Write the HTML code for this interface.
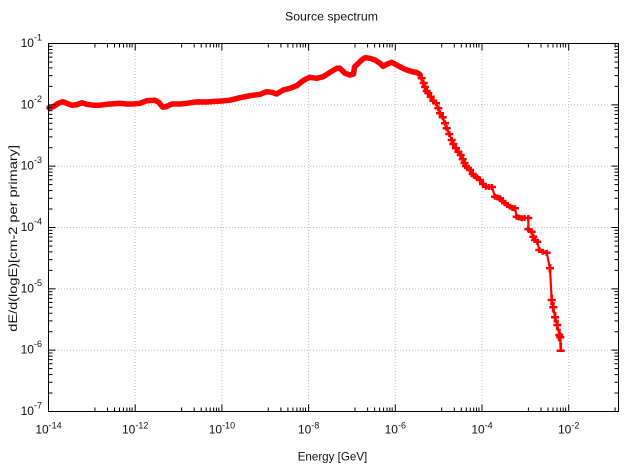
<!DOCTYPE html>
<html><head><meta charset="utf-8"><style>
html,body{margin:0;padding:0;background:#fff;}
svg{display:block;font-family:"Liberation Sans",sans-serif;}
</style></head><body>
<svg width="628" height="469" viewBox="0 0 628 469" xmlns="http://www.w3.org/2000/svg">
<rect width="628" height="469" fill="#fff"/>
<!-- grid -->
<g stroke="#bdbdbd" stroke-width="1" stroke-dasharray="1 2" fill="none">
<path d="M135.2 44V411M221.9 44V411M308.6 44V411M395.3 44V411M482 44V411M568.7 44V411"/>
<path d="M49 104.83H618M49 166.17H618M49 227.5H618M49 288.83H618M49 350.17H618"/>
</g>
<!-- data band -->
<polyline fill="none" stroke="#ff0000" stroke-width="5.5" stroke-linejoin="round" stroke-linecap="round" points="49,107.7 53.3,106.7 58.3,103.3 62.7,101.7 66.7,103.3 71.7,105.2 76.7,104.8 81.7,102.8 86.7,104.3 93.3,105.2 100,105.2 106.7,104.3 113.3,103.7 120,103.3 126.7,104 133.3,104 140,103.3 146.7,100.7 155,100.3 159,102.5 162.7,107.2 166.7,106.5 171.7,104 180,104 186.7,103.3 196.7,101.9 206.7,102 213.3,101.5 221.7,101 230,100.2 240,97.7 250,95.7 260,94.3 266.7,91.7 271.7,92.3 276.7,94 283.3,90 290,88.3 296.7,85.7 301.7,81.7 306,79 310,77.3 316.7,78.3 323.3,76.7 330,72.3 336.7,68.3 340,68.3 345,73.3 350,75 353.5,74 354.5,67 358.3,63.3 361.7,60 365,57.7 370,58.3 375,60 380,63.3 383.3,66.3 386.7,64.3 391.7,62.3 396.7,65 401.7,67.7 406.7,70 411.7,71.5 416.7,72.5 420,74.5"/>
<!-- descending line -->
<polyline fill="none" stroke="#ff0000" stroke-width="2.2" stroke-linejoin="round" points="420,74.5 421.7,78.3 423.3,83 425,87 426.7,91 428.3,93.3 430.7,96.7 433.3,100.7 436,103.3 438.3,108.3 440,113.3 442.7,117.3 445,123.3 446.7,128.3 449.3,134 451.7,140 453.3,144 456,148.3 458.3,151.7 460.7,155 462.7,159.3 464.5,163 466,166 468,168 470,170 472.7,174 474.5,176 476.7,177.3 480,180 483,184 486,186.7 489,187 492,187 495,196.7 497.5,197.5 500,198.3 502.5,201 505,203.3 507.5,205 510,206.7 512.5,208 515,208.3 516.7,216.7 519,217.5 521.7,218.3 524.5,218 528.3,218 528.3,229.3 531.7,231.7 533.3,236.7 535,240 537.3,241.7 539.3,250 542.7,251.7 546.7,252.7 550,268.3 551.7,300 553.3,307.3 555,317.3 557.3,325 559.3,335 560.3,337.3 560.7,350.7"/>
<!-- markers -->
<g fill="none" stroke="#ff0000" stroke-width="2.5">
<path d="M417.7 78.3h8M421.7 75.3v6M419.7 83h8M423.3 80v6M421 87h8M425 84v6M422.7 91h8M426.7 88v6M424.3 93.3h8M428.3 90.3v6M426.7 96.7h8M430.7 93.7v6M429.3 100.7h8M433.3 97.7v6M432 103.3h8M436 100.3v6M434.3 108.3h8M438.3 105.3v6M436 113.3h8M440 110.3v6M438.7 117.3h8M442.7 114.3v6M441 123.3h8M445 120.3v6M442.7 128.3h8M446.7 125.3v6M445.3 134h8M449.3 131v6M447.7 140h8M451.7 137v6M449.3 144h8M453.3 141v6M452 148.3h8M456 145.3v6M454.3 151.7h8M458.3 148.7v6M456.7 155h8M460.7 152v6M458.7 159.3h8M462.7 156.3v6M460.5 163h8M464.5 160v6M462 166h8M466 163v6M464 168h8M468 165v6M466 170h8M470 167v6M468.7 174h8M472.7 171v6M470.5 176h8M474.5 173v6M472.7 177.3h8M476.7 174.3v6M476 180h8M480 177v6M479 184h8M483 181v6M482 186.7h8M486 183.7v6M485 187h8M489 184v6M488 187h8M492 184v6M491 196.7h8M495 193.7v6M493.5 197.5h8M497.5 194.5v6M496 198.3h8M500 195.3v6M498.5 201h8M502.5 198v6M501 203.3h8M505 200.3v6M503.5 205h8M507.5 202v6M506 206.7h8M510 203.7v6M508.5 208h8M512.5 205v6M511 208.3h8M515 205.3v6M512.7 216.7h8M516.7 213.7v6M515 217.5h8M519 214.5v6M517.7 218.3h8M521.7 215.3v6M520.5 218h8M524.5 215v6M524.3 218h8M528.3 215v6M524.3 229.3h8M528.3 226.3v6M527.7 231.7h8M531.7 228.7v6M529.3 236.7h8M533.3 233.7v6M531 240h8M535 237v6M533.3 241.7h8M537.3 238.7v6M535.3 250h8M539.3 247v6M538.7 251.7h8M542.7 248.7v6M542.7 252.7h8M546.7 249.7v6M546 268.3h8M550 265.3v6M547.7 300h8M551.7 296v8M549.3 307.3h8M553.3 303.3v8M551 317.3h8M555 313.3v8M553.3 325h8M557.3 321v8M555.3 335h8M559.3 330v10M556.3 337.3h8M560.3 332.3v10M556.7 350.7h8M560.7 344v8"/>
<path d="M548.5 265.3h3M548.5 271.3h3M550.2 296h3M550.2 304h3M551.8 303.3h3M551.8 311.3h3M553.5 313.3h3M553.5 321.3h3M555.8 321h3M555.8 329h3M557.8 330h3M557.8 340h3M559.2 344h3"/>
</g>
<!-- frame -->
<rect x="48.5" y="43.5" width="570" height="368" fill="none" stroke="#000" stroke-width="1"/>
<!-- ticks -->
<g stroke="#000" stroke-width="1" fill="none">
<path d="M135.2 411.5v-7M221.9 411.5v-7M308.6 411.5v-7M395.3 411.5v-7M482 411.5v-7M568.7 411.5v-7M135.2 43.5v7M221.9 43.5v7M308.6 43.5v7M395.3 43.5v7M482 43.5v7M568.7 43.5v7"/>
<path d="M94.9 411.5v-4M107.5 411.5v-4M114.5 411.5v-4M119.5 411.5v-4M123.5 411.5v-4M126.9 411.5v-4M129.7 411.5v-4M132.1 411.5v-4M181.6 411.5v-4M194.2 411.5v-4M201.2 411.5v-4M206.2 411.5v-4M210.2 411.5v-4M213.6 411.5v-4M216.4 411.5v-4M218.8 411.5v-4M268.3 411.5v-4M280.9 411.5v-4M287.9 411.5v-4M292.9 411.5v-4M296.9 411.5v-4M300.3 411.5v-4M303.1 411.5v-4M305.5 411.5v-4M355 411.5v-4M367.6 411.5v-4M374.6 411.5v-4M379.6 411.5v-4M383.6 411.5v-4M387 411.5v-4M389.8 411.5v-4M392.2 411.5v-4M441.7 411.5v-4M454.3 411.5v-4M461.3 411.5v-4M466.3 411.5v-4M470.3 411.5v-4M473.7 411.5v-4M476.5 411.5v-4M478.9 411.5v-4M528.4 411.5v-4M541 411.5v-4M548 411.5v-4M553 411.5v-4M557 411.5v-4M560.4 411.5v-4M563.2 411.5v-4M565.6 411.5v-4M615.1 411.5v-4"/>
<path d="M94.9 43.5v4M107.5 43.5v4M114.5 43.5v4M119.5 43.5v4M123.5 43.5v4M126.9 43.5v4M129.7 43.5v4M132.1 43.5v4M181.6 43.5v4M194.2 43.5v4M201.2 43.5v4M206.2 43.5v4M210.2 43.5v4M213.6 43.5v4M216.4 43.5v4M218.8 43.5v4M268.3 43.5v4M280.9 43.5v4M287.9 43.5v4M292.9 43.5v4M296.9 43.5v4M300.3 43.5v4M303.1 43.5v4M305.5 43.5v4M355 43.5v4M367.6 43.5v4M374.6 43.5v4M379.6 43.5v4M383.6 43.5v4M387 43.5v4M389.8 43.5v4M392.2 43.5v4M441.7 43.5v4M454.3 43.5v4M461.3 43.5v4M466.3 43.5v4M470.3 43.5v4M473.7 43.5v4M476.5 43.5v4M478.9 43.5v4M528.4 43.5v4M541 43.5v4M548 43.5v4M553 43.5v4M557 43.5v4M560.4 43.5v4M563.2 43.5v4M565.6 43.5v4M615.1 43.5v4"/>
<path d="M48.5 104.83h7M48.5 166.17h7M48.5 227.5h7M48.5 288.83h7M48.5 350.17h7M618.5 104.83h-7M618.5 166.17h-7M618.5 227.5h-7M618.5 288.83h-7M618.5 350.17h-7"/>
<path d="M48.5 86.37h4M48.5 75.57h4M48.5 67.91h4M48.5 61.96h4M48.5 57.11h4M48.5 53h4M48.5 49.44h4M48.5 46.31h4M48.5 147.71h4M48.5 136.91h4M48.5 129.25h4M48.5 123.3h4M48.5 118.45h4M48.5 114.34h4M48.5 110.78h4M48.5 107.65h4M48.5 209.04h4M48.5 198.24h4M48.5 190.58h4M48.5 184.63h4M48.5 179.78h4M48.5 175.67h4M48.5 172.11h4M48.5 168.98h4M48.5 270.37h4M48.5 259.57h4M48.5 251.91h4M48.5 245.96h4M48.5 241.11h4M48.5 237h4M48.5 233.44h4M48.5 230.31h4M48.5 331.71h4M48.5 320.91h4M48.5 313.25h4M48.5 307.3h4M48.5 302.45h4M48.5 298.34h4M48.5 294.78h4M48.5 291.65h4M48.5 393.04h4M48.5 382.24h4M48.5 374.58h4M48.5 368.63h4M48.5 363.78h4M48.5 359.67h4M48.5 356.11h4M48.5 352.98h4"/>
<path d="M618.5 86.37h-4M618.5 75.57h-4M618.5 67.91h-4M618.5 61.96h-4M618.5 57.11h-4M618.5 53h-4M618.5 49.44h-4M618.5 46.31h-4M618.5 147.71h-4M618.5 136.91h-4M618.5 129.25h-4M618.5 123.3h-4M618.5 118.45h-4M618.5 114.34h-4M618.5 110.78h-4M618.5 107.65h-4M618.5 209.04h-4M618.5 198.24h-4M618.5 190.58h-4M618.5 184.63h-4M618.5 179.78h-4M618.5 175.67h-4M618.5 172.11h-4M618.5 168.98h-4M618.5 270.37h-4M618.5 259.57h-4M618.5 251.91h-4M618.5 245.96h-4M618.5 241.11h-4M618.5 237h-4M618.5 233.44h-4M618.5 230.31h-4M618.5 331.71h-4M618.5 320.91h-4M618.5 313.25h-4M618.5 307.3h-4M618.5 302.45h-4M618.5 298.34h-4M618.5 294.78h-4M618.5 291.65h-4M618.5 393.04h-4M618.5 382.24h-4M618.5 374.58h-4M618.5 368.63h-4M618.5 363.78h-4M618.5 359.67h-4M618.5 356.11h-4M618.5 352.98h-4"/>
</g>
<!-- y labels -->
<g font-size="12" fill="#111" text-anchor="end">
<text x="42" y="47">10<tspan font-size="9" dy="-6.5">-1</tspan></text>
<text x="42" y="108.3">10<tspan font-size="9" dy="-6.5">-2</tspan></text>
<text x="42" y="169.7">10<tspan font-size="9" dy="-6.5">-3</tspan></text>
<text x="42" y="231">10<tspan font-size="9" dy="-6.5">-4</tspan></text>
<text x="42" y="292.3">10<tspan font-size="9" dy="-6.5">-5</tspan></text>
<text x="42" y="353.7">10<tspan font-size="9" dy="-6.5">-6</tspan></text>
<text x="42" y="415">10<tspan font-size="9" dy="-6.5">-7</tspan></text>
</g>
<!-- x labels -->
<g font-size="12" fill="#111" text-anchor="middle">
<text x="48.5" y="433.3">10<tspan font-size="9" dy="-5">-14</tspan></text>
<text x="135.2" y="433.3">10<tspan font-size="9" dy="-5">-12</tspan></text>
<text x="221.9" y="433.3">10<tspan font-size="9" dy="-5">-10</tspan></text>
<text x="308.6" y="433.3">10<tspan font-size="9" dy="-5">-8</tspan></text>
<text x="395.3" y="433.3">10<tspan font-size="9" dy="-5">-6</tspan></text>
<text x="482" y="433.3">10<tspan font-size="9" dy="-5">-4</tspan></text>
<text x="568.7" y="433.3">10<tspan font-size="9" dy="-5">-2</tspan></text>
</g>
<!-- titles -->
<text x="285" y="20.5" font-size="12" fill="#111" textLength="93" lengthAdjust="spacingAndGlyphs">Source spectrum</text>
<text x="297.7" y="460.5" font-size="12" fill="#111" textLength="69.6" lengthAdjust="spacingAndGlyphs">Energy [GeV]</text>
<text transform="translate(16.8,331.7) rotate(-90)" x="0" y="0" font-size="12" fill="#111" textLength="186.7" lengthAdjust="spacingAndGlyphs">dE/d(logE)[cm-2 per primary]</text>
</svg>
</body></html>
